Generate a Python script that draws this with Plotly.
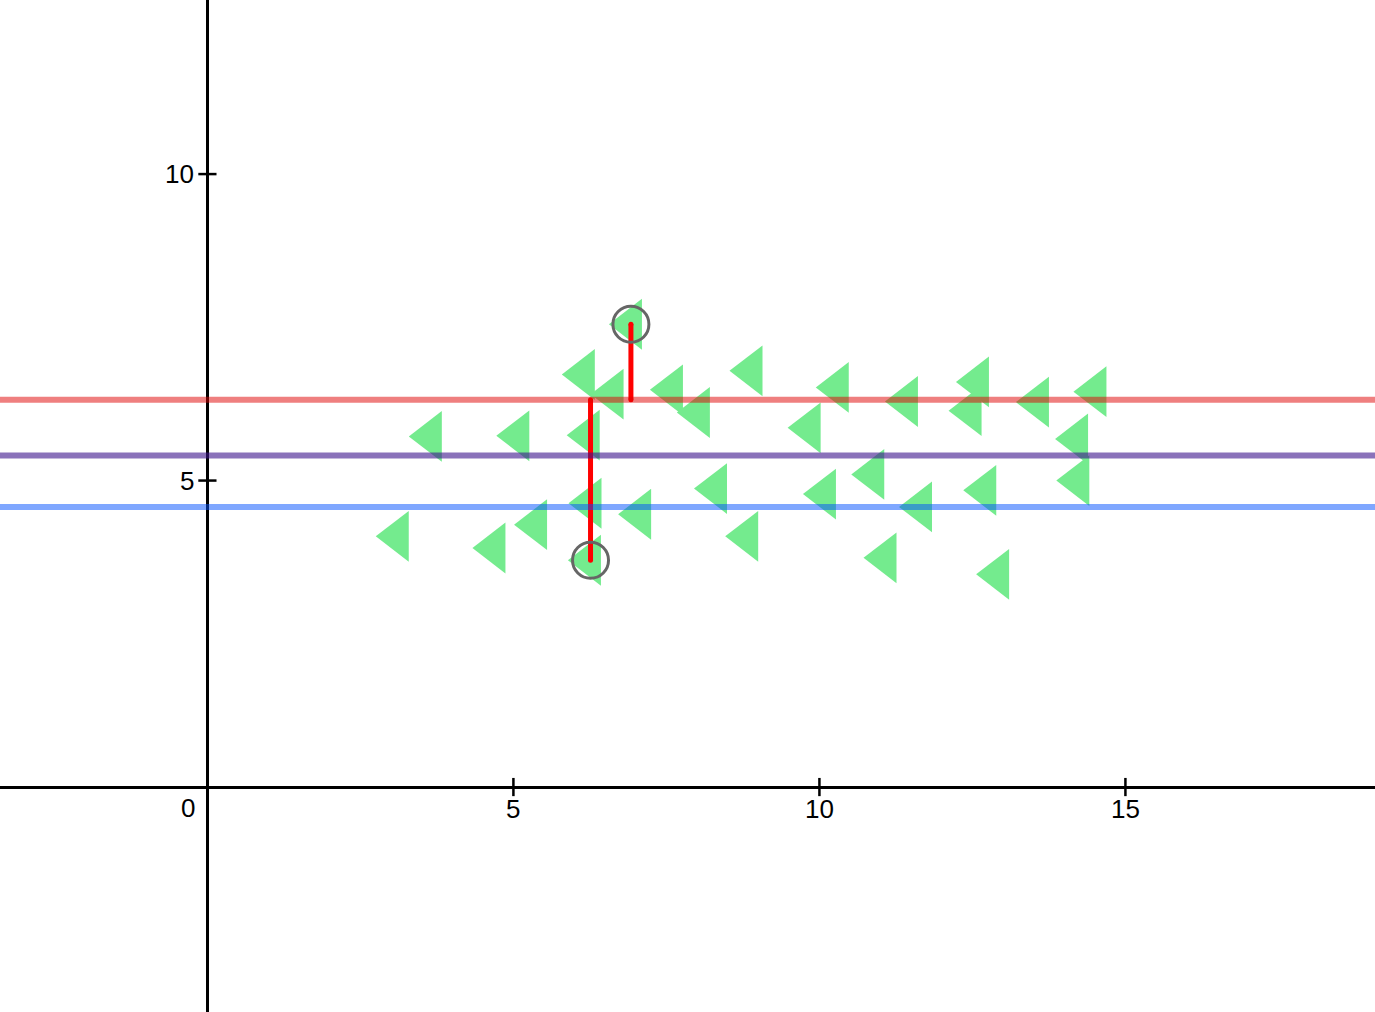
import plotly.graph_objects as go

# scatter points
xs = [6.92, 6.15, 6.62, 7.59, 8.03, 3.65, 5.08, 6.23, 6.26, 7.07, 3.11, 4.69,
      5.37, 6.25, 8.89, 10.30, 11.43, 12.59, 12.47, 13.57, 14.51, 9.84, 14.21,
      8.31, 10.88, 10.09, 11.66, 12.71, 14.23, 8.82, 11.08, 12.92]
ys = [7.55, 6.73, 6.41, 6.48, 6.11, 5.72, 5.73, 5.74, 4.63, 4.45, 4.09, 3.90,
      4.28, 3.70, 6.79, 6.52, 6.29, 6.61, 6.14, 6.28, 6.45, 5.86, 5.68,
      4.87, 5.10, 4.78, 4.57, 4.84, 5.00, 4.09, 3.74, 3.47]

# horizontal reference levels
upper_level = 6.32
mean_level = 5.41
lower_level = 4.57

# highlighted extreme points
max_pt = (6.92, 7.55)
min_pt = (6.26, 3.70)

x_ticks = [5, 10, 15]
y_ticks = [5, 10]

x_range = [-3.389, 19.078]
y_range = [-3.67, 12.84]

font = dict(family="Liberation Sans, Arial, sans-serif", size=26, color="black")

fig = go.Figure()

fig.add_trace(go.Scatter(x=xs, y=ys, mode="markers",
                         marker=dict(symbol="triangle-left", size=44,
                                     color="#74EB8E", line=dict(width=0))))

# red segments from the upper line to the extremes
fig.add_trace(go.Scatter(x=[max_pt[0], max_pt[0]], y=[max_pt[1], upper_level],
                         mode="lines+markers",
                         line=dict(color="#FF0000", width=5),
                         marker=dict(size=5, color="#FF0000")))
fig.add_trace(go.Scatter(x=[min_pt[0], min_pt[0]], y=[upper_level, min_pt[1]],
                         mode="lines+markers",
                         line=dict(color="#FF0000", width=5),
                         marker=dict(size=5, color="#FF0000")))

fig.add_trace(go.Scatter(x=[max_pt[0], min_pt[0]], y=[max_pt[1], min_pt[1]],
                         mode="markers",
                         marker=dict(symbol="circle-open", size=36,
                                     color="#666666", line=dict(width=3, color="#666666"))))

# tick marks crossing the axes
fig.add_trace(go.Scatter(x=x_ticks, y=[0] * len(x_ticks), mode="markers",
                         marker=dict(symbol="line-ns", size=13,
                                     line=dict(width=2.5, color="black"))))
fig.add_trace(go.Scatter(x=[0] * len(y_ticks), y=y_ticks, mode="markers",
                         marker=dict(symbol="line-ew", size=13,
                                     line=dict(width=2.5, color="black"))))

fig.add_hline(y=upper_level, line=dict(color="rgba(224,0,0,0.5)", width=6))
fig.add_hline(y=mean_level, line=dict(color="rgba(60,20,140,0.6)", width=6))
fig.add_hline(y=lower_level, line=dict(color="rgba(0,80,255,0.5)", width=6))

for t in x_ticks:
    fig.add_annotation(x=t, y=0, text=str(t), showarrow=False, font=font,
                       xanchor="center", yanchor="middle", yshift=-22)
for t in y_ticks:
    fig.add_annotation(x=0, y=t, text=str(t), showarrow=False, font=font,
                       xanchor="right", yanchor="middle", xshift=-11)
fig.add_annotation(x=0, y=0, text="0", showarrow=False, font=font,
                   xanchor="center", yanchor="middle", xshift=-19, yshift=-21)

fig.update_xaxes(range=x_range, showgrid=False, zeroline=True,
                 zerolinecolor="black", zerolinewidth=2.5,
                 showticklabels=False, ticks="", showline=False)
fig.update_yaxes(range=y_range, showgrid=False, zeroline=True,
                 zerolinecolor="black", zerolinewidth=2.5,
                 showticklabels=False, ticks="", showline=False)

fig.update_layout(width=1375, height=1012, margin=dict(l=0, r=0, t=0, b=0),
                  plot_bgcolor="white", paper_bgcolor="white",
                  showlegend=False, font=font)

fig.write_html("out.html", config={"displayModeBar": False},
               post_script="document.body.style.margin='0';")
